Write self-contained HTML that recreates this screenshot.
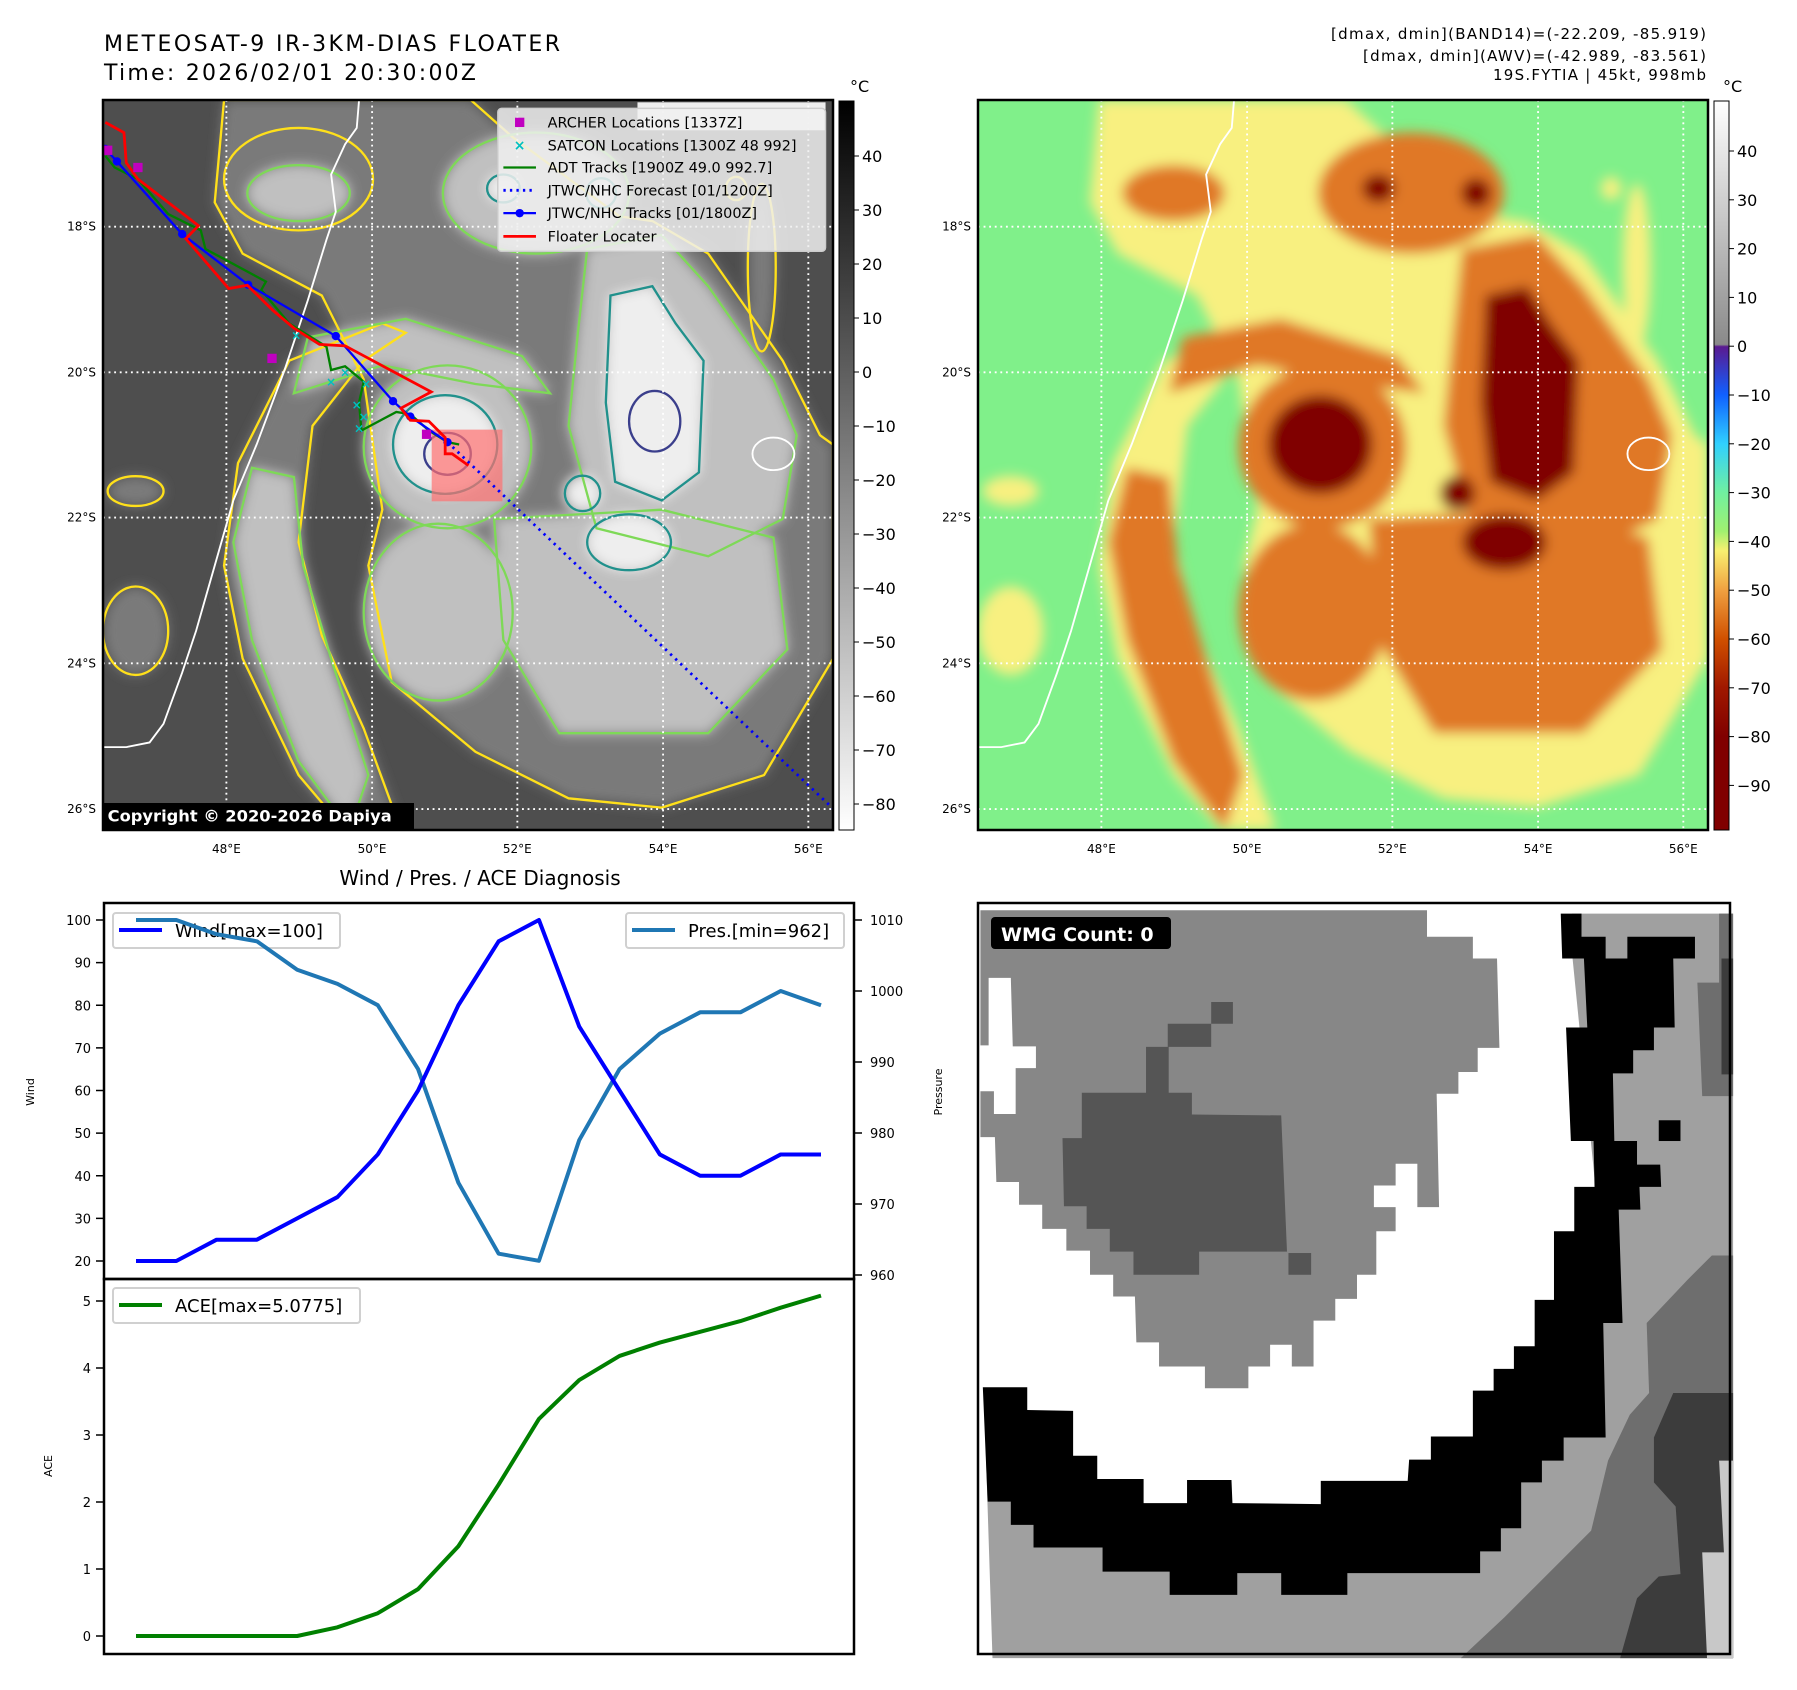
<!DOCTYPE html>
<html><head><meta charset="utf-8">
<style>
html,body{margin:0;padding:0;background:#fff;}
svg{display:block;font-family:"DejaVu Sans","Liberation Sans",sans-serif;}
</style></head>
<body>
<svg id="root" xmlns="http://www.w3.org/2000/svg" width="1797" height="1690" viewBox="0 0 1797 1690">
<defs>
  <filter id="blur" x="-20%" y="-20%" width="140%" height="140%"><feGaussianBlur stdDeviation="13"/></filter>
  <clipPath id="mapclip"><rect x="0" y="0" width="1568" height="1568"/></clipPath>
  <linearGradient id="cbGray" x1="0" y1="0" x2="0" y2="1">
    <stop offset="0" stop-color="#000"/><stop offset="1" stop-color="#fff"/>
  </linearGradient>
  <linearGradient id="cbColor" x1="0" y1="0" x2="0" y2="1">
    <stop offset="0" stop-color="#ffffff"/>
    <stop offset="0.334" stop-color="#8a8a8a"/>
    <stop offset="0.337" stop-color="#5a1a90"/>
    <stop offset="0.403" stop-color="#1060ff"/>
    <stop offset="0.47" stop-color="#30d0ff"/>
    <stop offset="0.537" stop-color="#70f0a0"/>
    <stop offset="0.59" stop-color="#a0f070"/>
    <stop offset="0.617" stop-color="#f8f070"/>
    <stop offset="0.671" stop-color="#f0a040"/>
    <stop offset="0.738" stop-color="#d05000"/>
    <stop offset="0.805" stop-color="#a01800"/>
    <stop offset="0.872" stop-color="#800000"/>
    <stop offset="1" stop-color="#800000"/>
  </linearGradient>
</defs>

<!-- Titles -->
<text x="104" y="51" font-size="22" textLength="456">METEOSAT-9 IR-3KM-DIAS FLOATER</text>
<text x="104" y="80" font-size="22" textLength="372">Time: 2026/02/01 20:30:00Z</text>
<text x="1706" y="39" font-size="15" text-anchor="end" textLength="375">[dmax, dmin](BAND14)=(-22.209, -85.919)</text>
<text x="1706" y="61" font-size="15" text-anchor="end" textLength="343">[dmax, dmin](AWV)=(-42.989, -83.561)</text>
<text x="1706" y="80" font-size="15" text-anchor="end" textLength="213">19S.FYTIA | 45kt, 998mb</text>

<!-- Left map -->
<g id="leftmap" transform="translate(103,100) scale(0.465561)">
  <g clip-path="url(#mapclip)">
    <rect x="0" y="0" width="1568" height="1568" fill="#4e4e4e"/>
    <g id="leftClouds" filter="url(#blur)"></g>
    <g id="leftContours" fill="none" stroke-width="5"></g>
    <g id="leftOverlay"></g>
  </g>
</g>
<!-- Right map -->
<g id="rightmap" transform="translate(978,100) scale(0.465561)">
  <g clip-path="url(#mapclip)">
    <rect x="0" y="0" width="1568" height="1568" fill="#80f08a"/>
    <g id="rightClouds" filter="url(#blur)"></g>
    <g id="rightOverlay"></g>
  </g>
</g>
<rect x="103" y="100" width="730" height="730" fill="none" stroke="#000" stroke-width="2.5"/>
<rect x="978" y="100" width="730" height="730" fill="none" stroke="#000" stroke-width="2.5"/>
<g id="mapLabels" font-size="12"></g>

<!-- Colorbars -->
<rect x="839" y="101" width="15" height="729" fill="url(#cbGray)" stroke="#000" stroke-width="1"/>
<text x="850" y="92" font-size="16">°C</text>
<rect x="1714" y="101" width="15" height="729" fill="url(#cbColor)" stroke="#000" stroke-width="1"/>
<text x="1723" y="92" font-size="16">°C</text>
<g id="cbTicks" font-size="16"></g>

<!-- Bottom-left chart -->
<text x="480" y="885" font-size="20" text-anchor="middle">Wind / Pres. / ACE Diagnosis</text>
<g id="chart"></g>

<!-- Bottom-right WMG panel -->
<g transform="translate(978,903) scale(0.4828)">
  <rect x="0" y="0" width="1564" height="1564" fill="#fff"/>
  <polygon fill="#878787" points="5,15 930,15 930,70 1025,70 1025,115 1075,115 1080,300 1035,300 1035,350 995,350 995,395 950,395 955,630 910,630 910,540 865,540 865,585 820,585 820,630 865,630 865,680 825,680 825,770 785,770 785,820 740,820 740,865 695,865 695,960 650,960 650,915 605,915 605,960 560,960 560,1005 470,1005 470,960 375,960 375,910 328,910 325,815 280,815 280,770 232,770 232,720 183,720 183,675 133,675 133,625 85,625 85,578 38,578 35,485 5,485 5,390 33,390 33,437 78,437 78,342 120,342 120,297 72,297 68,155 22,155 22,295 5,295"/>
  <polygon fill="#555" points="215,393 348,393 348,298 393,298 393,250 483,250 483,205 528,205 528,250 483,250 483,298 395,298 395,393 443,393 443,438 628,440 640,722 458,722 458,770 322,770 322,722 273,722 273,675 225,675 225,628 178,628 175,487 215,487"/>
  <rect x="643" y="725" width="47" height="45" fill="#555"/>
  <polygon fill="#a0a0a0" points="1230,22 1564,22 1564,1564 30,1564 15,1100 200,1290 700,1300 1000,1300 1150,1150 1250,900 1280,600 1250,300 1230,100"/>
  <polygon fill="#6e6e6e" points="1490,165 1535,165 1535,22 1564,22 1564,400 1500,400"/>
  <rect x="1540" y="115" width="24" height="240" fill="#3c3c3c"/>
  <polygon fill="#6e6e6e" points="1520,730 1564,730 1564,1564 1000,1564 1090,1480 1180,1390 1270,1300 1305,1155 1350,1060 1390,1015 1385,870 1470,780"/>
  <polygon fill="#3c3c3c" points="1440,1015 1564,1015 1564,1564 1330,1564 1365,1440 1410,1395 1455,1390 1445,1250 1400,1200 1400,1107"/>
  <polygon fill="#c8c8c8" points="1535,1155 1564,1155 1564,1564 1510,1564 1500,1345 1545,1345"/>
  <polygon fill="#000" points="10,1003 102,1003 102,1050 197,1052 197,1145 247,1145 247,1193 343,1193 343,1243 433,1243 433,1195 525,1195 527,1243 710,1245 710,1197 890,1197 893,1153 938,1153 938,1105 1025,1105 1025,1010 1068,1010 1068,965 1110,965 1110,918 1153,918 1153,822 1193,822 1193,680 1235,680 1235,588 1277,588 1275,493 1228,493 1218,258 1262,258 1255,115 1210,115 1207,22 1250,22 1250,70 1300,70 1300,115 1345,115 1345,70 1485,70 1485,115 1440,115 1443,258 1400,258 1400,305 1357,305 1357,353 1315,353 1318,493 1365,493 1365,542 1413,542 1415,588 1370,588 1372,635 1327,635 1335,870 1295,870 1300,1107 1213,1107 1213,1155 1168,1155 1168,1200 1125,1200 1125,1295 1083,1295 1083,1343 1040,1343 1040,1388 765,1388 765,1433 628,1433 628,1388 537,1388 537,1433 397,1433 397,1385 258,1385 258,1335 115,1335 115,1288 68,1288 68,1240 20,1240"/>
  <rect x="1410" y="450" width="45" height="43" fill="#000"/>
</g>
<rect x="978" y="903" width="752" height="751" fill="none" stroke="#000" stroke-width="2.5"/>
<rect x="991" y="917" width="180" height="32" rx="4" fill="#000"/>
<text x="1001" y="941" font-size="19" font-weight="bold" fill="#fff">WMG Count: 0</text>

<script>
const NS="http://www.w3.org/2000/svg";
function mk(tag,attrs,parent){const e=document.createElementNS(NS,tag);for(const k in attrs)e.setAttribute(k,attrs[k]);parent.appendChild(e);return e;}
function pts(a){return a.map(p=>p.join(",")).join(" ");}

const cloudShapes=[
 {lv:1,t:"poly",p:[[260,0],[790,0],[880,80],[1110,250],[1180,260],[1300,330],[1460,560],[1540,720],[1568,740],[1568,1200],[1420,1450],[1200,1520],[1000,1500],[800,1400],[620,1250],[570,1000],[600,880],[560,600],[470,420],[300,330],[240,220]]},
 {lv:1,t:"poly",p:[[600,480],[400,560],[290,780],[260,1000],[300,1200],[420,1450],[520,1568],[640,1568],[560,1350],[470,1150],[420,950],[450,700],[560,560],[650,500]]},
 {lv:1,t:"ell",c:[70,1140],r:[70,95]},
 {lv:1,t:"ell",c:[70,840],r:[60,32]},
 {lv:1,t:"ell",c:[1415,360],r:[30,180]},
 {lv:1,t:"ell",c:[1360,190],r:[22,25]},
 {lv:1,t:"ell",c:[420,170],r:[160,110]},
 {lv:2,t:"ell",c:[930,200],r:[200,130]},
 {lv:2,t:"ell",c:[740,745],r:[180,175]},
 {lv:2,t:"poly",p:[[1040,320],[1200,290],[1300,400],[1440,600],[1490,720],[1460,900],[1300,980],[1060,920],[1000,700],[1020,500]]},
 {lv:2,t:"poly",p:[[840,900],[1200,880],[1440,940],[1470,1180],[1300,1360],[980,1360],[860,1160]]},
 {lv:2,t:"ell",c:[720,1100],r:[160,190]},
 {lv:2,t:"poly",p:[[320,790],[410,810],[430,1000],[490,1200],[570,1450],[530,1568],[420,1420],[320,1160],[280,950]]},
 {lv:2,t:"poly",p:[[440,510],[650,470],[900,550],[960,630],[800,610],[600,570],[410,630]]},
 {lv:2,t:"ell",c:[420,200],r:[110,60]},
 {lv:3,t:"ell",c:[735,740],r:[112,106]},
 {lv:3,t:"ell",c:[1030,845],r:[38,38]},
 {lv:3,t:"poly",p:[[1090,420],[1180,400],[1230,480],[1290,560],[1280,800],[1200,860],[1100,820],[1080,650]]},
 {lv:3,t:"ell",c:[1130,950],r:[90,60]},
 {lv:3,t:"ell",c:[1070,200],r:[32,32]},
 {lv:3,t:"ell",c:[860,190],r:[35,30]}
];
const grayFill={1:"#7a7a7a",2:"#c0c0c0",3:"#eeeeee"};
const colorFill={1:"#f8f080",2:"#e07828",3:"#800000"};
const contourCol={1:"#ffe01a",2:"#7ed957",3:"#21918c"};
function shapeEl(s,parent,attrs){
  if(s.t==="poly"){attrs.points=pts(s.p);return mk("polygon",attrs,parent);}
  attrs.cx=s.c[0];attrs.cy=s.c[1];attrs.rx=s.r[0];attrs.ry=s.r[1];return mk("ellipse",attrs,parent);
}
const lc=document.getElementById("leftClouds"),rc=document.getElementById("rightClouds"),lk=document.getElementById("leftContours");
cloudShapes.forEach(s=>{
  const a=shapeEl(s,lc,{fill:grayFill[s.lv]});
  
  
  const b=shapeEl(s,rc,{fill:colorFill[s.lv]});
  
  
  const c=shapeEl(s,lk,{stroke:contourCol[s.lv]});
  
  
});
const eyeC=mk("ellipse",{cx:740,cy:760,rx:50,ry:45,fill:"none",stroke:"#3b3f8c","stroke-width":5},lk);


const ring=mk("ellipse",{cx:1185,cy:690,rx:55,ry:65,fill:"none",stroke:"#3b3f8c","stroke-width":5},lk);



const coast=[[550,0],[545,60],[520,95],[490,160],[500,240],[480,300],[440,430],[390,580],[330,740],[280,860],[240,1000],[200,1140],[170,1230],[130,1340],[100,1380],[50,1390],[0,1390]];
const gridX=[265,578,890,1203,1515], gridY=[272,585,897,1210,1523];
["leftOverlay","rightOverlay"].forEach(id=>{
  const g=document.getElementById(id);
  const cl=mk("polyline",{points:pts(coast),fill:"none",stroke:"#fff","stroke-width":4},g);
  
  
  const isl=mk("ellipse",{cx:1440,cy:760,rx:45,ry:35,fill:"none",stroke:"#fff","stroke-width":4},g);
  
  
  gridX.forEach(x=>{const l=mk("line",{x1:x,y1:0,x2:x,y2:1568,stroke:"#fff","stroke-width":4,"stroke-dasharray":"4 8"},g);
    
    });
  gridY.forEach(y=>{const l=mk("line",{x1:0,y1:y,x2:1568,y2:y,stroke:"#fff","stroke-width":4,"stroke-dasharray":"4 8"},g);
    
    });
});

const lo=document.getElementById("leftOverlay");
const redTrack=[[5,48],[45,70],[50,135],[75,170],[205,270],[178,298],[270,405],[310,398],[365,452],[410,490],[465,525],[520,528],[705,627],[640,662],[660,688],[700,690],[735,725],[735,760],[750,760],[785,785]];
const blueTrack=[[5,105],[30,132],[170,288],[312,397],[500,507],[623,647],[660,680],[740,735]];
const fcTrack=[[740,735],[1568,1522]];
const adtTrack=[[5,120],[25,145],[75,170],[140,245],[210,280],[220,320],[350,390],[340,408],[400,480],[480,530],[490,580],[520,572],[560,605],[550,650],[555,710],[630,670],[660,675],[700,710],[740,735],[765,740]];
const archer=[[75,145],[363,555],[10,108],[695,718]];
const satcon=[[415,505],[490,605],[520,585],[545,655],[560,680],[550,705],[565,610]];
const pink=mk("rect",{x:706,y:708,width:152,height:154,fill:"#ff7070","fill-opacity":0.7},lo);


const fc=mk("polyline",{points:pts(fcTrack),fill:"none",stroke:"#0000ff","stroke-width":6,"stroke-dasharray":"5 10"},lo);


const adt=mk("polyline",{points:pts(adtTrack),fill:"none",stroke:"#008000","stroke-width":5},lo);


const bl=mk("polyline",{points:pts(blueTrack),fill:"none",stroke:"#0000ff","stroke-width":5},lo);


blueTrack.forEach(p=>{const c=mk("circle",{cx:p[0],cy:p[1],r:9,fill:"#0000ff"},lo);
  
  });
const rd=mk("polyline",{points:pts(redTrack),fill:"none",stroke:"#ff0000","stroke-width":6},lo);


archer.forEach(p=>{const r=mk("rect",{x:p[0]-10,y:p[1]-10,width:20,height:20,fill:"#c000c0"},lo);
  
  });
satcon.forEach(p=>{const t=mk("text",{x:p[0],y:p[1]+9,"font-size":26,"font-weight":"bold","text-anchor":"middle",fill:"#00c0c0"},lo);t.textContent="×";
  
  });
const wm=mk("rect",{x:1148,y:5,width:404,height:60,fill:"#fff","fill-opacity":0.9},lo);


const lgBox=mk("rect",{x:848,y:18,width:704,height:307,rx:8,fill:"#f0f0f0","fill-opacity":0.85,stroke:"#ccc","stroke-width":3},lo);


const legendItems=["ARCHER Locations [1337Z]","SATCON Locations [1300Z 48 992]","ADT Tracks [1900Z 49.0 992.7]","JTWC/NHC Forecast [01/1200Z]","JTWC/NHC Tracks [01/1800Z]","Floater Locater"];
const legendRows=[48,97,145,194,243,293];
legendItems.forEach((s,i)=>{
  const y=legendRows[i];
  let m;
  if(i===0){m=mk("rect",{x:885,y:y-10,width:20,height:20,fill:"#c000c0"},lo);}
  else if(i===1){m=mk("text",{x:895,y:y+10,"font-size":30,"font-weight":"bold","text-anchor":"middle",fill:"#00c0c0"},lo);m.textContent="×";}
  else if(i===2){m=mk("line",{x1:860,y1:y,x2:930,y2:y,stroke:"#008000","stroke-width":5},lo);}
  else if(i===3){m=mk("line",{x1:860,y1:y,x2:930,y2:y,stroke:"#0000ff","stroke-width":6,"stroke-dasharray":"5 9"},lo);}
  else if(i===4){m=mk("line",{x1:860,y1:y,x2:930,y2:y,stroke:"#0000ff","stroke-width":5},lo);mk("circle",{cx:895,cy:y,r:9,fill:"#0000ff"},lo);}
  else {m=mk("line",{x1:860,y1:y,x2:930,y2:y,stroke:"#ff0000","stroke-width":6},lo);}
  
  
  const t=mk("text",{x:955,y:y+11,"font-size":31,fill:"#000"},lo);t.textContent=s;
  
  
});
const cpBox=mk("rect",{x:0,y:1510,width:668,height:58,fill:"#000"},lo);


const cp=mk("text",{x:10,y:1550,"font-size":35,"font-weight":"bold",fill:"#fff"},lo);cp.textContent="Copyright © 2020-2026 Dapiya";



const ml=document.getElementById("mapLabels");
const lonLabels=["48°E","50°E","52°E","54°E","56°E"], latLabels=["18°S","20°S","22°S","24°S","26°S"];
[103,978].forEach(ox=>{
  lonLabels.forEach((s,i)=>{const t=mk("text",{x:ox+gridX[i]*0.465561,y:853,"text-anchor":"middle"},ml);t.textContent=s;
    
    });
  latLabels.forEach((s,i)=>{const t=mk("text",{x:ox-7,y:100+gridY[i]*0.465561+4,"text-anchor":"end"},ml);t.textContent=s;
    
    });
});

const cbt=document.getElementById("cbTicks");
const irTicks=[40,30,20,10,0,-10,-20,-30,-40,-50,-60,-70,-80];
const awvTicks=[40,30,20,10,0,-10,-20,-30,-40,-50,-60,-70,-80,-90];
function fmt(v){return v<0?"\u2212"+(-v):""+v;}
irTicks.forEach(v=>{const y=156+(40-v)*5.4;
  mk("line",{x1:854,y1:y,x2:859,y2:y,stroke:"#000"},cbt);
  const t=mk("text",{x:862,y:y+6},cbt);t.textContent=fmt(v);
  
  });
awvTicks.forEach(v=>{const y=151+(40-v)*4.88;
  mk("line",{x1:1729,y1:y,x2:1734,y2:y,stroke:"#000"},cbt);
  const t=mk("text",{x:1737,y:y+6},cbt);t.textContent=fmt(v);
  
  });
</script>

<script>
const timeIdx=[0,1,2,3,4,5,6,7,8,9,10,11,12,13,14,15,16,17];
const windVals=[20,20,25,25,30,35,45,60,80,95,100,75,60,45,40,40,45,45];
const presVals=[1010,1010,1008,1007,1003,1001,998,989,973,963,962,979,989,994,997,997,1000,998];
const aceVals=[0,0,0,0,0,0.13,0.34,0.7,1.34,2.26,3.24,3.82,4.18,4.38,4.54,4.7,4.9,5.08];
const windTicks=[20,30,40,50,60,70,80,90,100];
const presTicks=[960,970,980,990,1000,1010];
const aceTicks=[0,1,2,3,4,5];

(function(){
const NS="http://www.w3.org/2000/svg";
const g=document.getElementById("chart");
function mk(tag,attrs){const e=document.createElementNS(NS,tag);for(const k in attrs)e.setAttribute(k,attrs[k]);g.appendChild(e);return e;}
const L=104,R=854,T=903,M=1279,B=1654;
const xS=i=>136+i*(685/17);
const yW=v=>920+(100-v)*(341/80);
const yP=v=>920+(1010-v)*(355/50);
const yA=v=>1636-v*67;

const ax1=mk("rect",{x:L,y:T,width:R-L,height:M-T,fill:"none",stroke:"#000","stroke-width":2.5});


const ax2=mk("rect",{x:L,y:M,width:R-L,height:B-M,fill:"none",stroke:"#000","stroke-width":2.5});



windTicks.forEach(v=>{const y=yW(v);
  mk("line",{x1:L-8,y1:y,x2:L,y2:y,stroke:"#000","stroke-width":1.5});
  const t=mk("text",{x:L-13,y:y+5,"font-size":13,"text-anchor":"end"});t.textContent=v;
  
  });
presTicks.forEach(v=>{const y=yP(v);
  mk("line",{x1:R,y1:y,x2:R+8,y2:y,stroke:"#000","stroke-width":1.5});
  const t=mk("text",{x:R+16,y:y+5,"font-size":13});t.textContent=v;
  
  });
aceTicks.forEach(v=>{const y=yA(v);
  mk("line",{x1:L-8,y1:y,x2:L,y2:y,stroke:"#000","stroke-width":1.5});
  const t=mk("text",{x:L-13,y:y+5,"font-size":13,"text-anchor":"end"});t.textContent=v;
  
  });

const yl1=mk("text",{x:34,y:1092,"font-size":11,"text-anchor":"middle",transform:"rotate(-90 34 1092)"});yl1.textContent="Wind";


const yl2=mk("text",{x:942,y:1092,"font-size":11,"text-anchor":"middle",transform:"rotate(-90 942 1092)"});yl2.textContent="Pressure";


const yl3=mk("text",{x:52,y:1466,"font-size":11,"text-anchor":"middle",transform:"rotate(-90 52 1466)"});yl3.textContent="ACE";



function legend(x,y,w,col,label,name){
  const b=mk("rect",{x:x,y:y,width:w,height:35,rx:3,fill:"#fff","fill-opacity":0.8,stroke:"#d0d0d0","stroke-width":2});
  
  
  mk("line",{x1:x+6,y1:y+17,x2:x+49,y2:y+17,stroke:col,"stroke-width":4});
  const t=mk("text",{x:x+62,y:y+24,"font-size":18});t.textContent=label;
  
  
}
legend(113,913,227,"#0000ff","Wind[max=100]","wind-legend");
legend(113,1288,247,"#008000","ACE[max=5.0775]","ace-legend");

const pl=mk("polyline",{points:timeIdx.map(i=>xS(i)+","+yP(presVals[i])).join(" "),fill:"none",stroke:"#1f77b4","stroke-width":4,"stroke-linejoin":"round"});


const wl=mk("polyline",{points:timeIdx.map(i=>xS(i)+","+yW(windVals[i])).join(" "),fill:"none",stroke:"#0000ff","stroke-width":4,"stroke-linejoin":"round"});


const al=mk("polyline",{points:timeIdx.map(i=>xS(i)+","+yA(aceVals[i])).join(" "),fill:"none",stroke:"#008000","stroke-width":4,"stroke-linejoin":"round"});



legend(626,913,218,"#1f77b4","Pres.[min=962]","pressure-legend");
})();
</script>
</svg>
</body></html>
